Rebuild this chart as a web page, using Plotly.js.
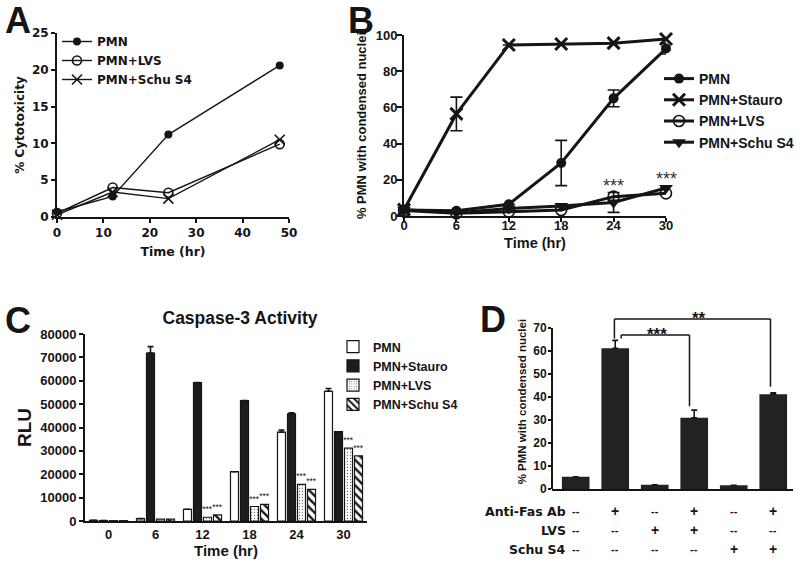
<!DOCTYPE html>
<html>
<head>
<meta charset="utf-8">
<script src="https://cdn.plot.ly/plotly-3.0.1.min.js"></script>
<style>html,body{margin:0;padding:0;background:#fff;}#chart{width:800px;height:567px;}</style>
</head>
<body>
<div id="chart"></div>
<script>
// ---------- Panel A data ----------
const aTime = [0, 12, 24, 48];
const aPMN = [0.7, 2.8, 11.2, 20.6];
const aLVS = [0.5, 4.0, 3.3, 9.9];
const aSchu = [0.3, 3.4, 2.5, 10.5];

// ---------- Panel B data ----------
const bTime = [0, 6, 12, 18, 24, 30];
const bPMN = [3.3, 2.9, 6.5, 29.3, 65, 92.5];
const bPMNerr = [0, 0, 0, 12.5, 4.6, 3];
const bStauro = [3.5, 56.4, 94.5, 95, 95.5, 97.8];
const bStauroErr = [0, 9.3, 0, 0, 0, 0];
const bLVS = [3, 1.5, 2.4, 3.3, 10.7, 12.5];
const bSchu = [3.5, 1.8, 4.2, 5.5, 7.5, 15.5];
const bSchuErr = [0, 0, 0, 0, 5.5, 0];
const bStars = ['***', '***'];
const bStarTime = [24, 30];
const bStarY = [16.5, 20.5];

// ---------- Panel C data ----------
const cCats = ['0', '6', '12', '18', '24', '30'];
const cPMN = [300, 1000, 5000, 21100, 38000, 55500];
const cPMNerr = [0, 0, 0, 0, 900, 1200];
const cStauro = [200, 71800, 59200, 51500, 45800, 38200];
const cStauroErr = [0, 2800, 0, 0, 500, 0];
const cLVS = [150, 800, 1600, 6200, 15700, 31200];
const cSchu = [150, 800, 2600, 7100, 13500, 27900];
const cLVSstars = ['', '', '***', '***', '***', '***'];
const cSchuStars = ['', '', '***', '***', '***', '***'];

// ---------- Panel D data ----------
const dIdx = [0, 1, 2, 3, 4, 5];
const dVals = [5.3, 61.2, 1.8, 31, 1.6, 41.2];
const dErr = [0, 3.4, 0, 3.3, 0, 0.6];
const dRowLabels = ['Anti-Fas Ab', 'LVS', 'Schu S4'];
const dAntiFas = ['--', '+', '--', '+', '--', '+'];
const dLVSrow = ['--', '--', '+', '+', '--', '--'];
const dSchuRow = ['--', '--', '--', '--', '+', '+'];

const FAM = 'Liberation Sans, Arial, sans-serif';
const WIDE = 'DejaVu Sans, Verdana, sans-serif';
const INK = '#151515';
const bold = (size, fam) => ({family: fam || FAM, size: size, weight: 'bold', color: INK});

function ax(extra) {
  return Object.assign({
    showline: true, linewidth: 2, linecolor: INK,
    ticks: 'outside', ticklen: 4, tickwidth: 2, tickcolor: INK,
    showgrid: false, zeroline: false, fixedrange: true,
    tickfont: bold(13)
  }, extra);
}

const traces = [];
// A
traces.push({x: aTime, y: aPMN, name: 'PMN', xaxis: 'x', yaxis: 'y', legend: 'legend', mode: 'lines+markers',
  line: {color: INK, width: 1.4}, marker: {symbol: 'circle', size: 8, color: INK}, cliponaxis: false});
traces.push({x: aTime, y: aLVS, name: 'PMN+LVS', xaxis: 'x', yaxis: 'y', legend: 'legend', mode: 'lines+markers',
  line: {color: INK, width: 1.4}, marker: {symbol: 'circle-open', size: 9, color: INK, line: {width: 1.6}}, cliponaxis: false});
traces.push({x: aTime, y: aSchu, name: 'PMN+Schu S4', xaxis: 'x', yaxis: 'y', legend: 'legend', mode: 'lines+markers',
  line: {color: INK, width: 1.4}, marker: {symbol: 'x-thin-open', size: 10, color: INK, line: {width: 1.6}}, cliponaxis: false});

// B
const errB = (arr) => ({type: 'data', array: arr, visible: true, color: INK, thickness: 1.6, width: 6});
traces.push({x: bTime, y: bPMN, name: 'PMN', xaxis: 'x2', yaxis: 'y2', legend: 'legend2', mode: 'lines+markers',
  line: {color: INK, width: 3}, marker: {symbol: 'circle', size: 10, color: INK}, error_y: errB(bPMNerr), cliponaxis: false});
traces.push({x: bTime, y: bStauro, name: 'PMN+Stauro', xaxis: 'x2', yaxis: 'y2', legend: 'legend2', mode: 'lines+markers',
  line: {color: INK, width: 3}, marker: {symbol: 'x-thin-open', size: 12, color: INK, line: {width: 3}}, error_y: errB(bStauroErr), cliponaxis: false});
traces.push({x: bTime, y: bLVS, name: 'PMN+LVS', xaxis: 'x2', yaxis: 'y2', legend: 'legend2', mode: 'lines+markers',
  line: {color: INK, width: 3}, marker: {symbol: 'circle-open', size: 11, color: INK, line: {width: 1.6}}, cliponaxis: false});
traces.push({x: bTime, y: bSchu, name: 'PMN+Schu S4', xaxis: 'x2', yaxis: 'y2', legend: 'legend2', mode: 'lines+markers',
  line: {color: INK, width: 3}, marker: {symbol: 'triangle-down', size: 12, color: INK}, error_y: errB(bSchuErr), cliponaxis: false});

// C
const upErr = (arr) => ({type: 'data', symmetric: false, array: arr, arrayminus: arr.map(() => 0), visible: true, color: INK, thickness: 1.6, width: 3});
const barLine = {color: INK, width: 1.2};
const starFont = {family: FAM, size: 8.5, color: '#111111'};
traces.push({type: 'bar', x: cCats, y: cPMN, name: 'PMN', xaxis: 'x3', yaxis: 'y3', legend: 'legend3',
  marker: {color: '#ffffff', line: barLine}, error_y: upErr(cPMNerr)});
traces.push({type: 'bar', x: cCats, y: cStauro, name: 'PMN+Stauro', xaxis: 'x3', yaxis: 'y3', legend: 'legend3',
  marker: {color: '#1c1c1c', line: barLine}, error_y: upErr(cStauroErr)});
traces.push({type: 'bar', x: cCats, y: cLVS, name: 'PMN+LVS', xaxis: 'x3', yaxis: 'y3', legend: 'legend3',
  marker: {color: '#ffffff', line: barLine, pattern: {shape: '.', fgcolor: '#777', bgcolor: '#ffffff', size: 3, solidity: 0.15}},
  text: cLVSstars, textposition: 'outside', textfont: starFont, outsidetextfont: starFont, constraintext: 'none', cliponaxis: false});
traces.push({type: 'bar', x: cCats, y: cSchu, name: 'PMN+Schu S4', xaxis: 'x3', yaxis: 'y3', legend: 'legend3',
  marker: {color: '#ffffff', line: barLine, pattern: {shape: '\\', fgcolor: INK, bgcolor: '#ffffff', size: 6, solidity: 0.4}},
  text: cSchuStars, textposition: 'outside', textfont: starFont, outsidetextfont: starFont, constraintext: 'none', cliponaxis: false});

// D
traces.push({type: 'bar', x: dIdx, y: dVals, xaxis: 'x4', yaxis: 'y4', showlegend: false, width: 0.7,
  marker: {color: '#222222', line: {width: 0}}, error_y: upErr(dErr)});

const annotations = [];
// panel letters
[['A', 18, 20], ['B', 361, 20], ['C', 18, 320], ['D', 493, 319]].forEach(([t, px, py]) => {
  annotations.push({text: t, xref: 'paper', yref: 'paper', x: px / 800, y: 1 - py / 567, showarrow: false,
    xanchor: 'center', yanchor: 'middle', font: bold(36)});
});
// B stars
bStars.forEach((s, i) => annotations.push({text: s, xref: 'x2', yref: 'y2', x: bStarTime[i], y: bStarY[i], showarrow: false,
  yanchor: 'middle', font: {family: FAM, size: 18, color: '#333'}}));
// D table
const rowsY = [511, 530, 549];
const rows = [dAntiFas, dLVSrow, dSchuRow];
dRowLabels.forEach((lab, r) => {
  annotations.push({text: lab, xref: 'paper', yref: 'paper', x: 568 / 800, y: 1 - rowsY[r] / 567, xanchor: 'right', yanchor: 'middle',
    showarrow: false, font: bold(12.5, WIDE)});
  rows[r].forEach((v, i) => annotations.push({text: v, xref: 'x4', yref: 'paper', x: dIdx[i], y: 1 - rowsY[r] / 567,
    xanchor: 'center', yanchor: 'middle', showarrow: false, font: bold(v === '+' ? 14 : 11)}));
});
// D significance labels
annotations.push({text: '***', xref: 'x4', yref: 'y4', x: 2.05, y: 67.2, yanchor: 'middle', showarrow: false, font: bold(17)});
annotations.push({text: '**', xref: 'x4', yref: 'y4', x: 3.12, y: 74.3, yanchor: 'middle', showarrow: false, font: bold(17)});

const L = (x0, y0, x1, y1) => ({type: 'line', xref: 'x4', yref: 'y4', x0, y0, x1, y1, line: {color: INK, width: 1.5}});
const shapes = [
  // D y-axis line (stops at 70)
  {type: 'line', xref: 'x4 domain', yref: 'y4', x0: 0, x1: 0, y0: 0, y1: 70, line: {color: INK, width: 2}},
  // *** bracket
  L(1.15, 67, 2.88, 67), L(1.15, 67, 1.15, 65.4), L(2.88, 67, 2.88, 36),
  // ** bracket
  L(0.98, 73.9, 4.93, 73.9), L(0.98, 73.9, 0.98, 65.4), L(4.93, 73.9, 4.93, 44.5)
];

const legendBase = {bgcolor: 'rgba(0,0,0,0)', borderwidth: 0, xanchor: 'left', yanchor: 'top', itemclick: false};

const layout = {
  width: 800, height: 567,
  margin: {l: 0, r: 0, t: 0, b: 0},
  paper_bgcolor: '#ffffff', plot_bgcolor: 'rgba(0,0,0,0)',
  font: {family: FAM, color: INK},
  barmode: 'group', bargap: 0.148, bargroupgap: 0.2,
  title: {text: 'Caspase-3 Activity', x: 240 / 800, xanchor: 'center', y: 1 - 318 / 567, yanchor: 'middle', font: bold(17.5)},
  xaxis: ax({domain: [57 / 800, 289 / 800], range: [0, 50], tickvals: [0, 10, 20, 30, 40, 50], anchor: 'y',
    tickfont: bold(12, WIDE), title: {text: 'Time (hr)', font: bold(12.5, WIDE), standoff: 8}}),
  yaxis: ax({domain: [1 - 217 / 567, 1 - 33 / 567], range: [0, 25], tickvals: [0, 5, 10, 15, 20, 25], anchor: 'x',
    tickfont: bold(12, WIDE), title: {text: '% Cytotoxicity', font: bold(12, WIDE), standoff: 5}}),
  xaxis2: ax({domain: [404 / 800, 666 / 800], range: [0, 30], tickvals: [0, 6, 12, 18, 24, 30], anchor: 'y2',
    ticklabelstandoff: -8, title: {text: 'Time (hr)', font: bold(14.5), standoff: 6}}),
  yaxis2: ax({domain: [1 - 216 / 567, 1 - 35 / 567], range: [0, 100], tickvals: [0, 20, 40, 60, 80, 100], anchor: 'x2',
    ticklen: 6, ticklabelstandoff: -4, title: {text: '% PMN with condensed nuclei', font: bold(13), standoff: 6}}),
  xaxis3: ax({domain: [85 / 800, 367 / 800], type: 'category', anchor: 'y3', ticks: '',
    title: {text: 'Time (hr)', font: bold(15), standoff: 4}}),
  yaxis3: ax({domain: [1 - 521 / 567, 1 - 334 / 567], range: [0, 80000], dtick: 10000, tickformat: 'd', anchor: 'x3',
    title: {text: 'RLU', font: bold(19), standoff: 4}}),
  xaxis4: ax({domain: [552 / 800, 793 / 800], range: [-0.6, 5.5], anchor: 'y4', ticks: '', showticklabels: false}),
  yaxis4: ax({domain: [1 - 489 / 567, 1 - (489 - 76 * 2.3) / 567], range: [0, 76], tickvals: [0, 10, 20, 30, 40, 50, 60, 70],
    anchor: 'x4', showline: false, tickfont: bold(12), ticklen: 3, ticklabelstandoff: -1,
    title: {text: '% PMN with condensed nuclei', font: bold(11.5), standoff: 4}}),
  legend: Object.assign({}, legendBase, {x: 57 / 800, y: 1 - 27 / 567, font: bold(12, WIDE)}),
  legend2: Object.assign({}, legendBase, {x: 659 / 800, y: 1 - 63 / 567, font: bold(14)}),
  legend3: Object.assign({}, legendBase, {x: 333 / 800, y: 1 - 332 / 567, font: bold(12.5)}),
  annotations: annotations,
  shapes: shapes,
  showlegend: true
};

Plotly.newPlot('chart', traces, layout, {displayModeBar: false, staticPlot: true});
</script>
</body>
</html>
